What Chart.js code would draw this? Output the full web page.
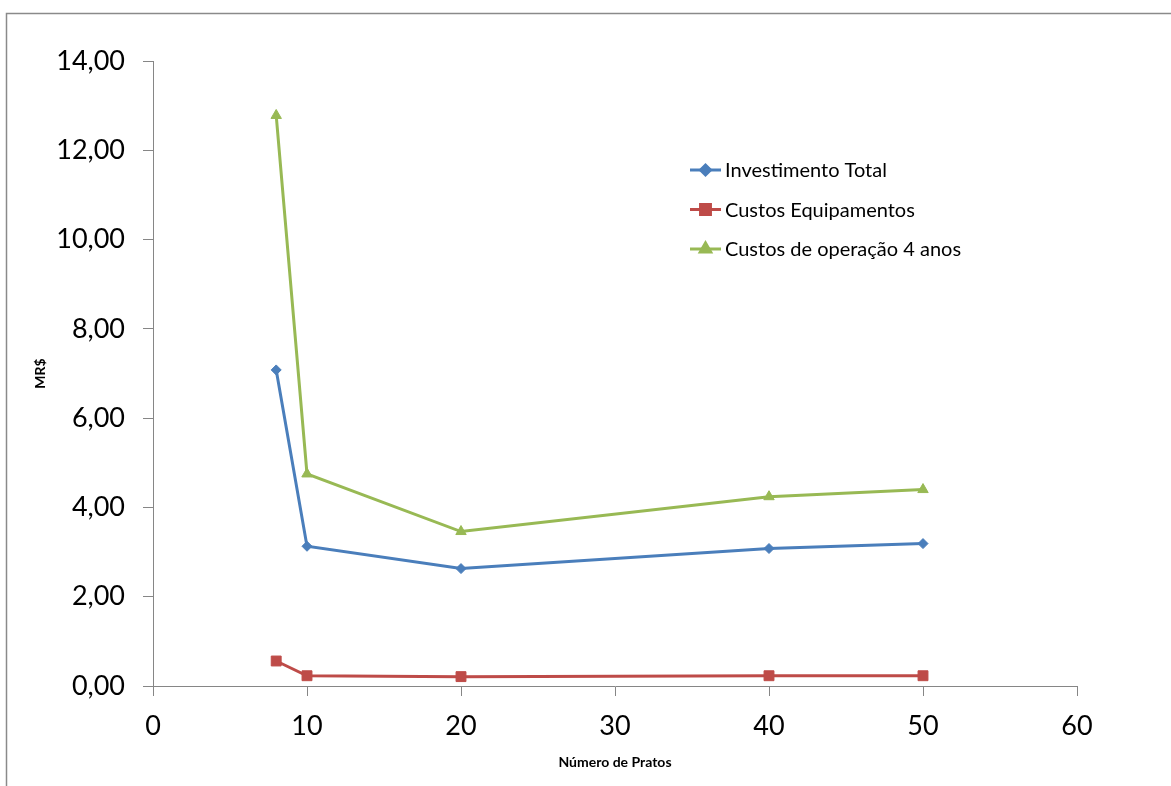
<!DOCTYPE html>
<html>
<head>
<meta charset="utf-8">
<script src="https://cdn.jsdelivr.net/npm/chart.js@4.4.0/dist/chart.umd.min.js"></script>
<style>
  html, body { margin: 0; padding: 0; background: #fff; }
  #wrap { width: 1171px; height: 786px; position: relative; }
</style>
</head>
<body>
<div id="wrap"><canvas id="c" width="1171" height="786"></canvas></div>
<script>
// Número de pratos (x) e custos em MR$ (y)
const pratos = [8, 10, 20, 40, 50];
const investimentoTotal = [7.08, 3.13, 2.63, 3.08, 3.19];
const custosEquipamentos = [0.56, 0.23, 0.21, 0.23, 0.23];
const custosOperacao = [12.78, 4.75, 3.46, 4.24, 4.40];
const seriesNames = ['Investimento Total', 'Custos Equipamentos', 'Custos de operação 4 anos'];
const xTicks = [0, 10, 20, 30, 40, 50, 60];
const yTicks = [0, 2, 4, 6, 8, 10, 12, 14];

const AXIS_GRAY = '#868686';
const FONT = 'Lato, "Open Sans", sans-serif';

const toPoints = ys => pratos.map((x, i) => ({ x, y: ys[i] }));

function series(label, ys, color, style, radius) {
  return {
    label,
    data: toPoints(ys),
    showLine: true,
    tension: 0,
    borderColor: color,
    backgroundColor: color,
    borderWidth: 3,
    pointStyle: style,
    pointRadius: radius,
    pointHoverRadius: radius,
    pointBorderWidth: 1,
    clip: false
  };
}

// Moldura cinza do gráfico
const framePlugin = {
  id: 'frame',
  beforeDraw(chart) {
    const ctx = chart.ctx;
    ctx.save();
    ctx.fillStyle = '#fff';
    ctx.fillRect(0, 0, chart.width, chart.height);
    ctx.strokeStyle = '#8a8a8a';
    ctx.lineWidth = 1.5;
    ctx.strokeRect(6.5, 13.5, chart.width + 20, chart.height + 20);
    ctx.restore();
  }
};

// Legenda desenhada dentro da área do gráfico
const insideLegend = {
  id: 'insideLegend',
  afterDatasetsDraw(chart, args, opts) {
    const ctx = chart.ctx;
    ctx.save();
    chart.data.datasets.forEach((ds, i) => {
      const y = opts.y + i * opts.rowGap;
      ctx.strokeStyle = ds.borderColor;
      ctx.lineWidth = 3;
      ctx.beginPath();
      ctx.moveTo(opts.x, y);
      ctx.lineTo(opts.x + opts.lineLen, y);
      ctx.stroke();
      ctx.fillStyle = ds.backgroundColor;
      Chart.helpers.drawPoint(ctx, {
        pointStyle: ds.pointStyle,
        radius: ds.pointRadius,
        rotation: 0,
        borderWidth: 1
      }, opts.x + opts.lineLen / 2, y);
      ctx.fillStyle = '#000';
      ctx.font = opts.font;
      ctx.textBaseline = 'middle';
      ctx.textAlign = 'left';
      ctx.fillText(ds.label, opts.x + opts.lineLen + 4, y + 1);
    });
    ctx.restore();
  }
};

new Chart(document.getElementById('c'), {
  type: 'scatter',
  data: {
    datasets: [
      series(seriesNames[0], investimentoTotal, '#4A7EBB', 'rectRot', 5),
      series(seriesNames[1], custosEquipamentos, '#BE4B48', 'rect', 7),
      series(seriesNames[2], custosOperacao, '#98B954', 'triangle', 6)
    ]
  },
  options: {
    responsive: false,
    animation: false,
    devicePixelRatio: 1,
    layout: { padding: { top: 61, right: 94, left: 0, bottom: 0 } },
    plugins: {
      legend: { display: false },
      tooltip: { enabled: false },
      insideLegend: {
        x: 690, y: 170, rowGap: 39.5, lineLen: 31,
        font: '20px ' + FONT
      }
    },
    scales: {
      x: {
        type: 'linear',
        min: 0,
        max: 60,
        afterBuildTicks: s => { s.ticks = xTicks.map(v => ({ value: v })); },
        afterFit: s => { s.height = 100; },
        ticks: {
          color: '#000',
          font: { family: FONT, size: 27 },
          padding: 14,
          maxRotation: 0
        },
        grid: {
          drawOnChartArea: false,
          drawTicks: true,
          tickLength: 10,
          tickColor: AXIS_GRAY,
          color: AXIS_GRAY
        },
        border: { display: true, color: AXIS_GRAY, width: 1 },
        title: {
          display: true,
          text: 'Número de Pratos',
          color: '#000',
          font: { family: FONT, size: 14, weight: 'bold' },
          padding: { top: 0, bottom: 15 }
        }
      },
      y: {
        type: 'linear',
        min: 0,
        max: 14,
        afterBuildTicks: s => { s.ticks = yTicks.map(v => ({ value: v })); },
        afterFit: s => { s.width = 153; },
        ticks: {
          color: '#000',
          font: { family: FONT, size: 27 },
          padding: 18,
          callback: v => v.toFixed(2).replace('.', ',')
        },
        grid: {
          drawOnChartArea: false,
          drawTicks: true,
          tickLength: 10,
          tickColor: AXIS_GRAY,
          color: AXIS_GRAY
        },
        border: { display: true, color: AXIS_GRAY, width: 1 },
        title: {
          display: true,
          text: 'MR$',
          color: '#000',
          font: { family: FONT, size: 14, weight: 'bold' },
          padding: { top: 32, bottom: 0 }
        }
      }
    }
  },
  plugins: [framePlugin, insideLegend]
});
</script>
</body>
</html>
